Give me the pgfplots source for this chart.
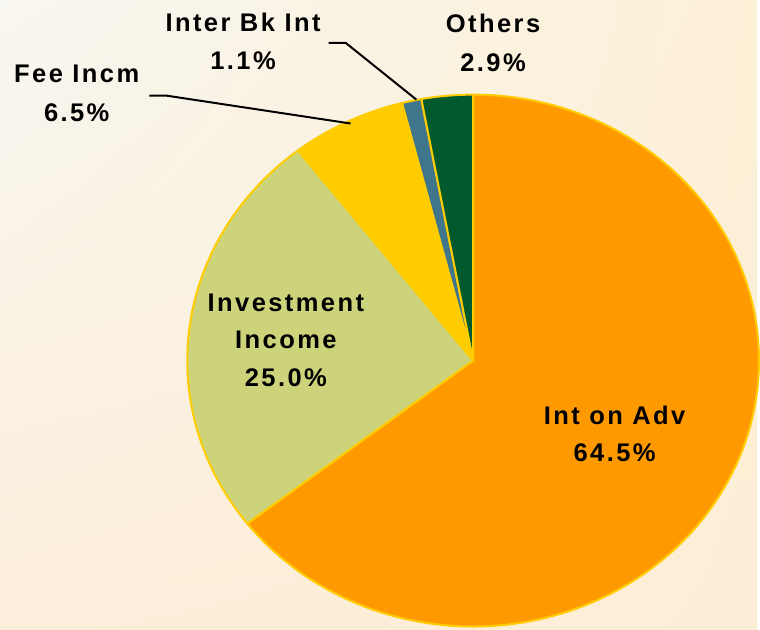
\documentclass[border=0pt]{standalone}
\usepackage{pgfplots}
\pgfplotsset{compat=1.18}
\usetikzlibrary{shadings}
\usepackage{fontspec}
\setmainfont{Liberation Sans}
\newfontfamily\lblfont{Liberation Sans}[LetterSpace=9.5]
\definecolor{cAdv}{RGB}{255,153,0}
\definecolor{cInv}{RGB}{204,211,122}
\definecolor{cFee}{RGB}{255,204,0}
\definecolor{cBk}{RGB}{64,118,140}
\definecolor{cOth}{RGB}{0,90,46}
\definecolor{cEdge}{RGB}{255,204,0}
\definecolor{bgUL}{RGB}{248,246,240}
\definecolor{bgUR}{RGB}{252,240,215}
\definecolor{bgLL}{RGB}{251,238,218}
\definecolor{bgLR}{RGB}{252,238,214}
% shares (percent), clockwise from 12 o'clock
\def\sAdv{64.5}
\def\sInv{25.0}
\def\sFee{6.5}
\def\sBk{1.1}
\def\sOth{2.9}
\begin{document}
\begin{tikzpicture}[x=1pt,y=1pt]
\shade[upper left=bgUL, upper right=bgUR, lower left=bgLL, lower right=bgLR] (0,0) rectangle (380,316);
\pgfmathsetmacro{\aA}{90}
\pgfmathsetmacro{\aB}{\aA-3.6*\sAdv}
\pgfmathsetmacro{\aC}{\aB-3.6*\sInv}
\pgfmathsetmacro{\aD}{\aC-3.6*\sFee}
\pgfmathsetmacro{\aE}{\aD-3.6*\sBk}
\pgfmathsetmacro{\aF}{\aE-3.6*\sOth}
\begin{axis}[
  at={(237.5pt,135pt)}, anchor=center,
  width=287pt, height=267pt, scale only axis,
  xmin=-1, xmax=1, ymin=-1, ymax=1,
  hide axis, clip=false,
  every axis plot/.append style={draw=cEdge, line width=1pt, line join=round},
]
\addplot[fill=cAdv, domain=\aB:\aA, samples=120, smooth] ({cos(x)},{sin(x)}) -- (0,0) -- cycle;
\addplot[fill=cInv, domain=\aC:\aB, samples=60, smooth] ({cos(x)},{sin(x)}) -- (0,0) -- cycle;
\addplot[fill=cFee, domain=\aD:\aC, samples=20, smooth] ({cos(x)},{sin(x)}) -- (0,0) -- cycle;
\addplot[fill=cBk, domain=\aE:\aD, samples=5] ({cos(x)},{sin(x)}) -- (0,0) -- cycle;
\addplot[fill=cOth, domain=\aF:\aE, samples=10, smooth] ({cos(x)},{sin(x)}) -- (0,0) -- cycle;
\end{axis}
\tikzset{lbl/.style={font=\lblfont\fontsize{12.8}{15}\selectfont\bfseries, inner sep=0pt, anchor=base}}
\node[lbl] at (122,300) {Inter Bk Int};
\node[lbl] at (122,281) {1.1\%};
\node[lbl] at (247.5,299.5) {Others};
\node[lbl] at (247.5,280) {2.9\%};
\node[lbl] at (38.5,274.5) {Fee Incm};
\node[lbl] at (38.5,255) {6.5\%};
\node[lbl] at (143.5,159.5) {Investment};
\node[lbl] at (143.5,141) {Income};
\node[lbl] at (143.5,122) {25.0\%};
\node[lbl] at (308.5,103) {Int on Adv};
\node[lbl] at (308.5,84.5) {64.5\%};
\draw[line width=1pt] (165,294.5) -- (173.5,294.5) -- (209,266);
\draw[line width=1pt] (75,268) -- (83.5,268) -- (176,254);
\end{tikzpicture}
\end{document}
